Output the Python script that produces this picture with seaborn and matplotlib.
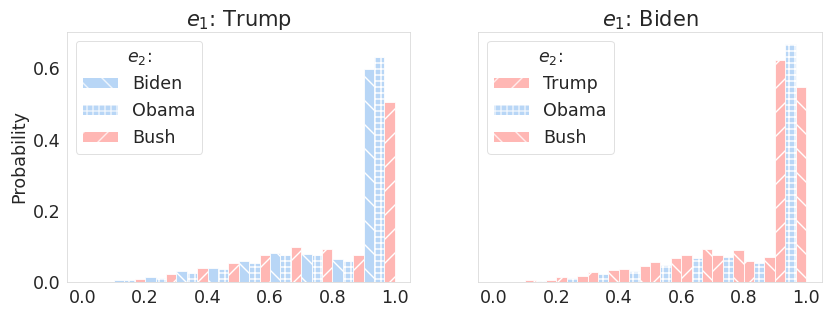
import numpy as np
import pandas as pd
import matplotlib
matplotlib.use("Agg")
import matplotlib.pyplot as plt
from matplotlib.patches import Patch
import seaborn as sns

# ---- data ----
bin_centers = [0.05, 0.15, 0.25, 0.35, 0.45, 0.55, 0.65, 0.75, 0.85, 0.95]

# Panel 1: e1 = Trump
left_labels = ["Biden", "Obama", "Bush"]
trump_vs_biden = [0.0, 0.006, 0.014, 0.031, 0.038, 0.059, 0.081, 0.079, 0.065, 0.599]
trump_vs_obama = [0.0, 0.004, 0.010, 0.024, 0.036, 0.053, 0.075, 0.076, 0.060, 0.632]
trump_vs_bush = [0.0, 0.008, 0.022, 0.038, 0.053, 0.075, 0.099, 0.093, 0.076, 0.506]

# Panel 2: e1 = Biden
right_labels = ["Trump", "Obama", "Bush"]
biden_vs_trump = [0.0, 0.006, 0.014, 0.027, 0.037, 0.056, 0.076, 0.076, 0.059, 0.623]
biden_vs_obama = [0.0, 0.002, 0.012, 0.023, 0.031, 0.048, 0.068, 0.070, 0.053, 0.669]
biden_vs_bush = [0.0, 0.006, 0.017, 0.034, 0.045, 0.068, 0.093, 0.090, 0.070, 0.548]

titles = ["$e_1$: Trump", "$e_1$: Biden"]

# ---- style ----
sns.set_style("whitegrid", {"axes.grid": False, "axes.edgecolor": ".85"})
plt.rcParams["font.family"] = ["DejaVu Sans"]
plt.rcParams["font.size"] = 17.5
plt.rcParams["axes.titlesize"] = "large"
plt.rcParams["axes.labelsize"] = "medium"
plt.rcParams["xtick.labelsize"] = "medium"
plt.rcParams["ytick.labelsize"] = "medium"
plt.rcParams["legend.fontsize"] = "medium"
plt.rcParams["legend.title_fontsize"] = "medium"
plt.rcParams["hatch.linewidth"] = 1.4
plt.rcParams["hatch.color"] = "white"

pastel = sns.color_palette("pastel")
blue, red = pastel[0], pastel[3]

panels = [
    (left_labels, [trump_vs_biden, trump_vs_obama, trump_vs_bush],
     [blue, blue, red], ["\\", "++", "/"]),
    (right_labels, [biden_vs_trump, biden_vs_obama, biden_vs_bush],
     [red, blue, red], ["/", "++", "\\"]),
]

fig, axes = plt.subplots(1, 2, figsize=(830 / 72, 316 / 72), dpi=72, sharey=True)
fig.subplots_adjust(left=0.081, right=0.990, top=0.899, bottom=0.108, wspace=0.198)

for ax, title, (labels, series, colors, hatches) in zip(axes, titles, panels):
    rows = []
    for lab, vals in zip(labels, series):
        for c, v in zip(bin_centers, vals):
            rows.append({"score": c, "p": v, "e2": lab})
    df = pd.DataFrame(rows)
    sns.histplot(
        data=df, x="score", weights="p", hue="e2", hue_order=labels,
        bins=10, binrange=(0, 1), multiple="dodge", stat="count",
        palette=dict(zip(labels, colors)), alpha=0.75, ax=ax, legend=False,
        edgecolor="white", linewidth=0.8,
    )
    # assign hatches by position of each bar within its bin
    sub_w = 0.1 / 3
    for p in ax.patches:
        x0 = p.get_x()
        k = int(round((x0 % 0.1) / sub_w)) % 3
        if abs((x0 % 0.1) - 0.1) < 1e-6:
            k = 0
        p.set_hatch(hatches[k])
        p.set_edgecolor("white")
    handles = [Patch(facecolor=c, alpha=0.75, hatch=h, edgecolor="white", linewidth=0)
               for c, h in zip(colors, hatches)]
    leg = ax.legend(handles, labels, title="$e_2$:", loc="upper left",
                    frameon=True, handleheight=0.5)
    leg.get_frame().set_edgecolor(".85")
    ax.set_title(title)
    ax.set_xlabel("")
    ax.set_xticks([0.0, 0.2, 0.4, 0.6, 0.8, 1.0])
    ax.set_yticks([0.0, 0.2, 0.4, 0.6])

axes[0].set_ylabel("Probability")
axes[1].set_ylabel("")

fig.savefig("out.png", dpi=72)
